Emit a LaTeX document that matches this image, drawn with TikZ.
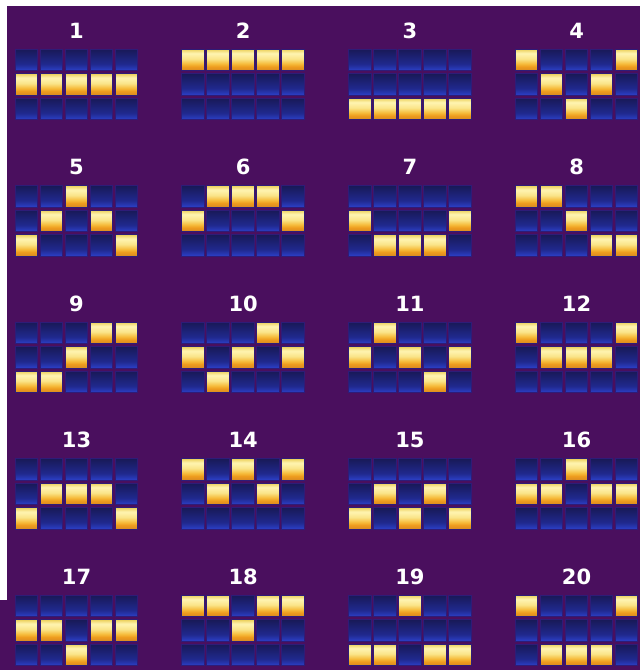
\documentclass[tikz,border=0pt]{standalone}
\usepackage{fontspec}
\setmainfont{DejaVu Sans}
\usepackage{xcolor}
\usetikzlibrary{positioning}

\definecolor{bgpurple}{HTML}{4A0F5E}
\definecolor{celledge}{HTML}{2E1C78}
\definecolor{blueT}{HTML}{181957}
\definecolor{blueM}{HTML}{20298E}
\definecolor{blueB}{HTML}{2C40C8}
\definecolor{goldT}{HTML}{EBCF58}
\definecolor{goldH}{HTML}{FFF4B2}
\definecolor{goldM}{HTML}{FAE488}
\definecolor{goldL}{HTML}{F6BC3C}
\definecolor{goldO}{HTML}{EE9C1E}
\definecolor{goldB}{HTML}{D98A22}

% shadings run from the bottom (25bp) to the top (75bp) of the cell
\pgfdeclareverticalshading{bluecell}{100bp}{color(0bp)=(blueB); color(25bp)=(blueB); color(40bp)=(blueM); color(75bp)=(blueT); color(100bp)=(blueT)}
\pgfdeclareverticalshading{goldcell}{100bp}{color(0bp)=(goldB); color(25bp)=(goldB); color(34bp)=(goldO); color(41bp)=(goldL); color(52bp)=(goldM); color(65bp)=(goldH); color(75bp)=(goldT); color(100bp)=(goldT)}

\begin{document}
\begin{tikzpicture}[x=1pt, y=-1pt,
    cell/.style={draw=celledge, line width=0.7pt, minimum width=22.5pt, minimum height=21.5pt, inner sep=0pt, anchor=center},
    dark/.style={shading=bluecell},
    lit/.style={shading=goldcell},
    linenum/.style={text=white, font=\fontsize{21}{21}\selectfont\bfseries, inner sep=0pt}]
  \useasboundingbox (0,0) rectangle (640,670);
  \fill[bgpurple] (0,0) rectangle (640,670);
  \fill[white] (0,0) rectangle (640,6);
  \fill[white] (0,0) rectangle (7,600);
  \def\colstep{166.7}
  \def\rowstep{136.5}
  \foreach \n/\pat in {1/{1,1,1,1,1}, 2/{0,0,0,0,0}, 3/{2,2,2,2,2}, 4/{0,1,2,1,0},
      5/{2,1,0,1,2}, 6/{1,0,0,0,1}, 7/{1,2,2,2,1}, 8/{0,0,1,2,2},
      9/{2,2,1,0,0}, 10/{1,2,1,0,1}, 11/{1,0,1,2,1}, 12/{0,1,1,1,0},
      13/{2,1,1,1,2}, 14/{0,1,0,1,0}, 15/{2,1,2,1,2}, 16/{1,1,0,1,1},
      17/{1,1,2,1,1}, 18/{0,0,1,0,0}, 19/{2,2,0,2,2}, 20/{0,2,2,2,0}} {
    \pgfmathtruncatemacro{\pc}{mod(\n-1,4)}
    \pgfmathtruncatemacro{\pr}{div(\n-1,4)}
    \pgfmathsetmacro{\px}{15+\pc*\colstep}
    \pgfmathsetmacro{\py}{49+\pr*\rowstep}
    \node[linenum] (N\n) at (\px+61.5, \py-18.5) {\n};
    \foreach \win [count=\c from 0] in \pat {
      \foreach \r in {0,1,2} {
        \ifnum\r=\win \tikzset{cur/.style=lit}\else \tikzset{cur/.style=dark}\fi
        \node[cell, cur] (L\n-\c-\r) at (\px+\c*25+11.25, \py+\r*24.5+10.75) {};
      }
    }
  }
\end{tikzpicture}
\end{document}
